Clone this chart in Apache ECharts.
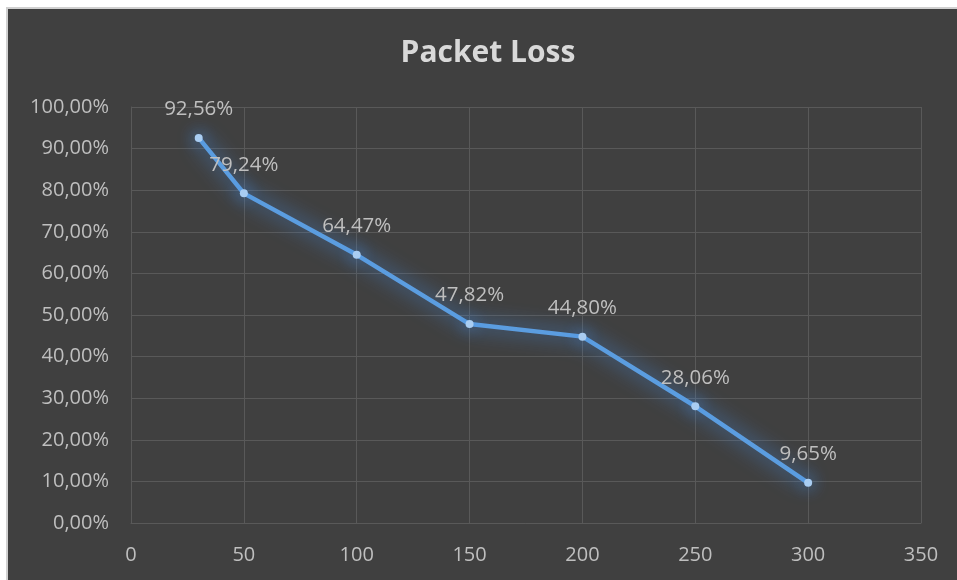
<!DOCTYPE html>
<html>
<head>
<meta charset="utf-8">
<script src="https://cdn.jsdelivr.net/npm/echarts@6/dist/echarts.min.js"></script>
<style>
  html, body { margin: 0; padding: 0; background: #ffffff; }
  #frame {
    position: absolute; left: 6px; top: 7px; right: 0; bottom: 0;
    background: #404040;
    border-left: 2px solid #d0d0d0; border-top: 2px solid #d0d0d0;
  }
  #chart { position: absolute; left: 0; top: 0; width: 957px; height: 580px; }
</style>
</head>
<body>
<div id="frame"></div>
<div id="chart"></div>
<script>
// packet size / load on x, loss in percent
const xValues = [30, 50, 100, 150, 200, 250, 300]
const lossPct = [92.56, 79.24, 64.47, 47.82, 44.80, 28.06, 9.65]

const fmtPct = (v) => v.toFixed(2).replace('.', ',') + '%'

const chart = echarts.init(document.getElementById('chart'))
const gridColor = '#595959'
const textColor = '#bfbfbf'

const option = {
  backgroundColor: 'transparent',
  textStyle: { fontFamily: 'Open Sans' },
  title: {
    text: 'Packet Loss',
    left: 483,
    top: 33,
    textAlign: 'center',
    textStyle: { color: '#d9d9d9', fontSize: 30, fontWeight: 'bold', fontFamily: 'Open Sans' }
  },
  grid: { left: 131, right: 36, top: 107, bottom: 57 },
  xAxis: {
    type: 'value',
    min: 0,
    max: 350,
    interval: 50,
    axisLine: { show: true, lineStyle: { color: gridColor, width: 1 } },
    axisTick: { show: false },
    splitLine: { show: true, lineStyle: { color: gridColor, width: 1 } },
    axisLabel: { color: textColor, fontSize: 20, margin: 22 }
  },
  yAxis: {
    type: 'value',
    min: 0,
    max: 100,
    interval: 10,
    axisLine: { show: true, lineStyle: { color: gridColor, width: 1 } },
    axisTick: { show: false },
    splitLine: { show: true, lineStyle: { color: gridColor, width: 1 } },
    axisLabel: { color: textColor, fontSize: 20, margin: 22, formatter: (v) => fmtPct(v) }
  },
  series: [
    {
      type: 'line',
      data: xValues.map((x, i) => [x, lossPct[i]]),
      symbol: 'circle',
      symbolSize: 8,
      lineStyle: {
        color: '#5b9de0',
        width: 4.5,
        shadowColor: 'rgba(70, 145, 235, 1)',
        shadowBlur: 20
      },
      itemStyle: {
        color: '#a9cdf2',
        borderWidth: 0,
        shadowColor: 'rgba(70, 145, 235, 1)',
        shadowBlur: 16
      },
      label: {
        show: true,
        position: 'top',
        distance: 14,
        color: textColor,
        fontSize: 20.5,
        formatter: (p) => fmtPct(p.value[1])
      },
      animation: false
    }
  ]
}
chart.setOption(option)
</script>
</body>
</html>
